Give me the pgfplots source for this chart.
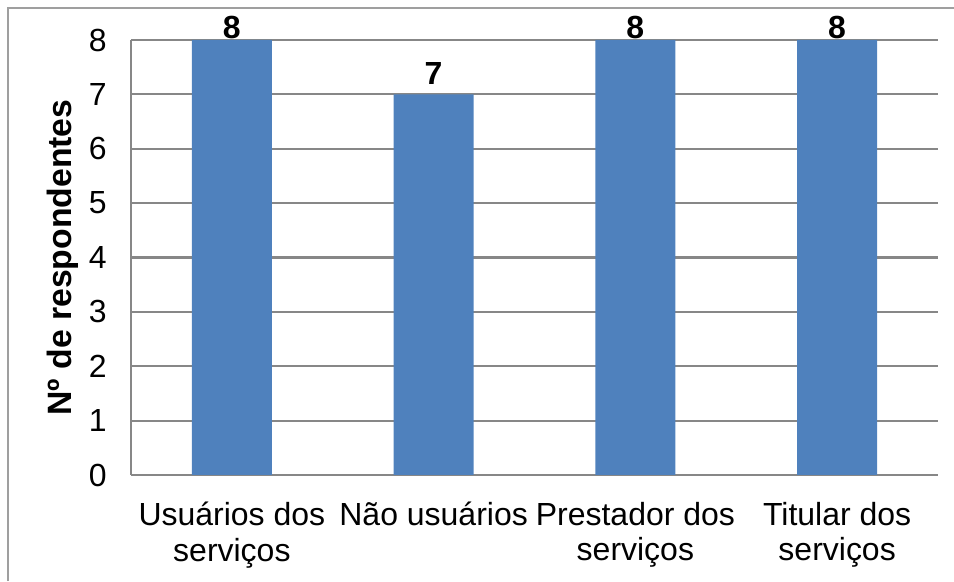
\documentclass[border=0pt]{standalone}
\usepackage{fontspec}
\setmainfont{Liberation Sans}
\usepackage{pgfplots}
\pgfplotsset{compat=1.18}
\definecolor{barblue}{HTML}{4F81BD}
\definecolor{gridgray}{HTML}{878787}
\newcommand{\chartfont}{\fontsize{9.1}{10}\selectfont}

\begin{document}
\begin{tikzpicture}[font=\chartfont]
\useasboundingbox (0,0) rectangle (9.54,5.81);
% outer frame (left and top edges only visible)
\draw[gridgray!80, line width=0.5pt] (0.08,0) -- (0.08,5.73) -- (9.54,5.73);

\begin{axis}[
  at={(1.31cm,1.06cm)}, anchor=south west,
  scale only axis, width=8.07cm, height=4.35cm,
  xmin=-0.5, xmax=3.5, ymin=0, ymax=8,
  ytick={0,1,...,8},
  xtick={0,1,2,3},
  xticklabels={{Usuários dos\\serviços}, {Não usuários}, {Prestador dos\\serviços}, {Titular dos\\serviços}},
  xticklabel style={align=center, anchor=north, yshift=-0.15cm},
  yticklabel style={xshift=-0.12cm},
  major tick length=0pt,
  ymajorgrids, grid style={gridgray, line width=0.6pt},
  axis x line=bottom, axis y line=left,
  axis line style={gridgray, line width=0.6pt, -},
  ylabel={Nº de respondentes},
  ylabel style={at={(rel axis cs:0,0.5)}, anchor=center, yshift=0.68cm,
    font=\fontsize{9.6}{10}\selectfont\bfseries},
  /pgf/number format/assume math mode=true,
  ybar, bar width=0.8cm,
  clip=false,
]
\addplot[fill=barblue, draw=none] coordinates {(0,8) (1,7) (2,8) (3,8)};
\node[anchor=south, inner sep=0pt, font=\chartfont\bfseries] at (axis cs:0,8) {8};
\node[anchor=south, inner sep=0pt, yshift=0.09cm, font=\chartfont\bfseries] at (axis cs:1,7) {7};
\node[anchor=south, inner sep=0pt, font=\chartfont\bfseries] at (axis cs:2,8) {8};
\node[anchor=south, inner sep=0pt, font=\chartfont\bfseries] at (axis cs:3,8) {8};
\end{axis}
\end{tikzpicture}
\end{document}
